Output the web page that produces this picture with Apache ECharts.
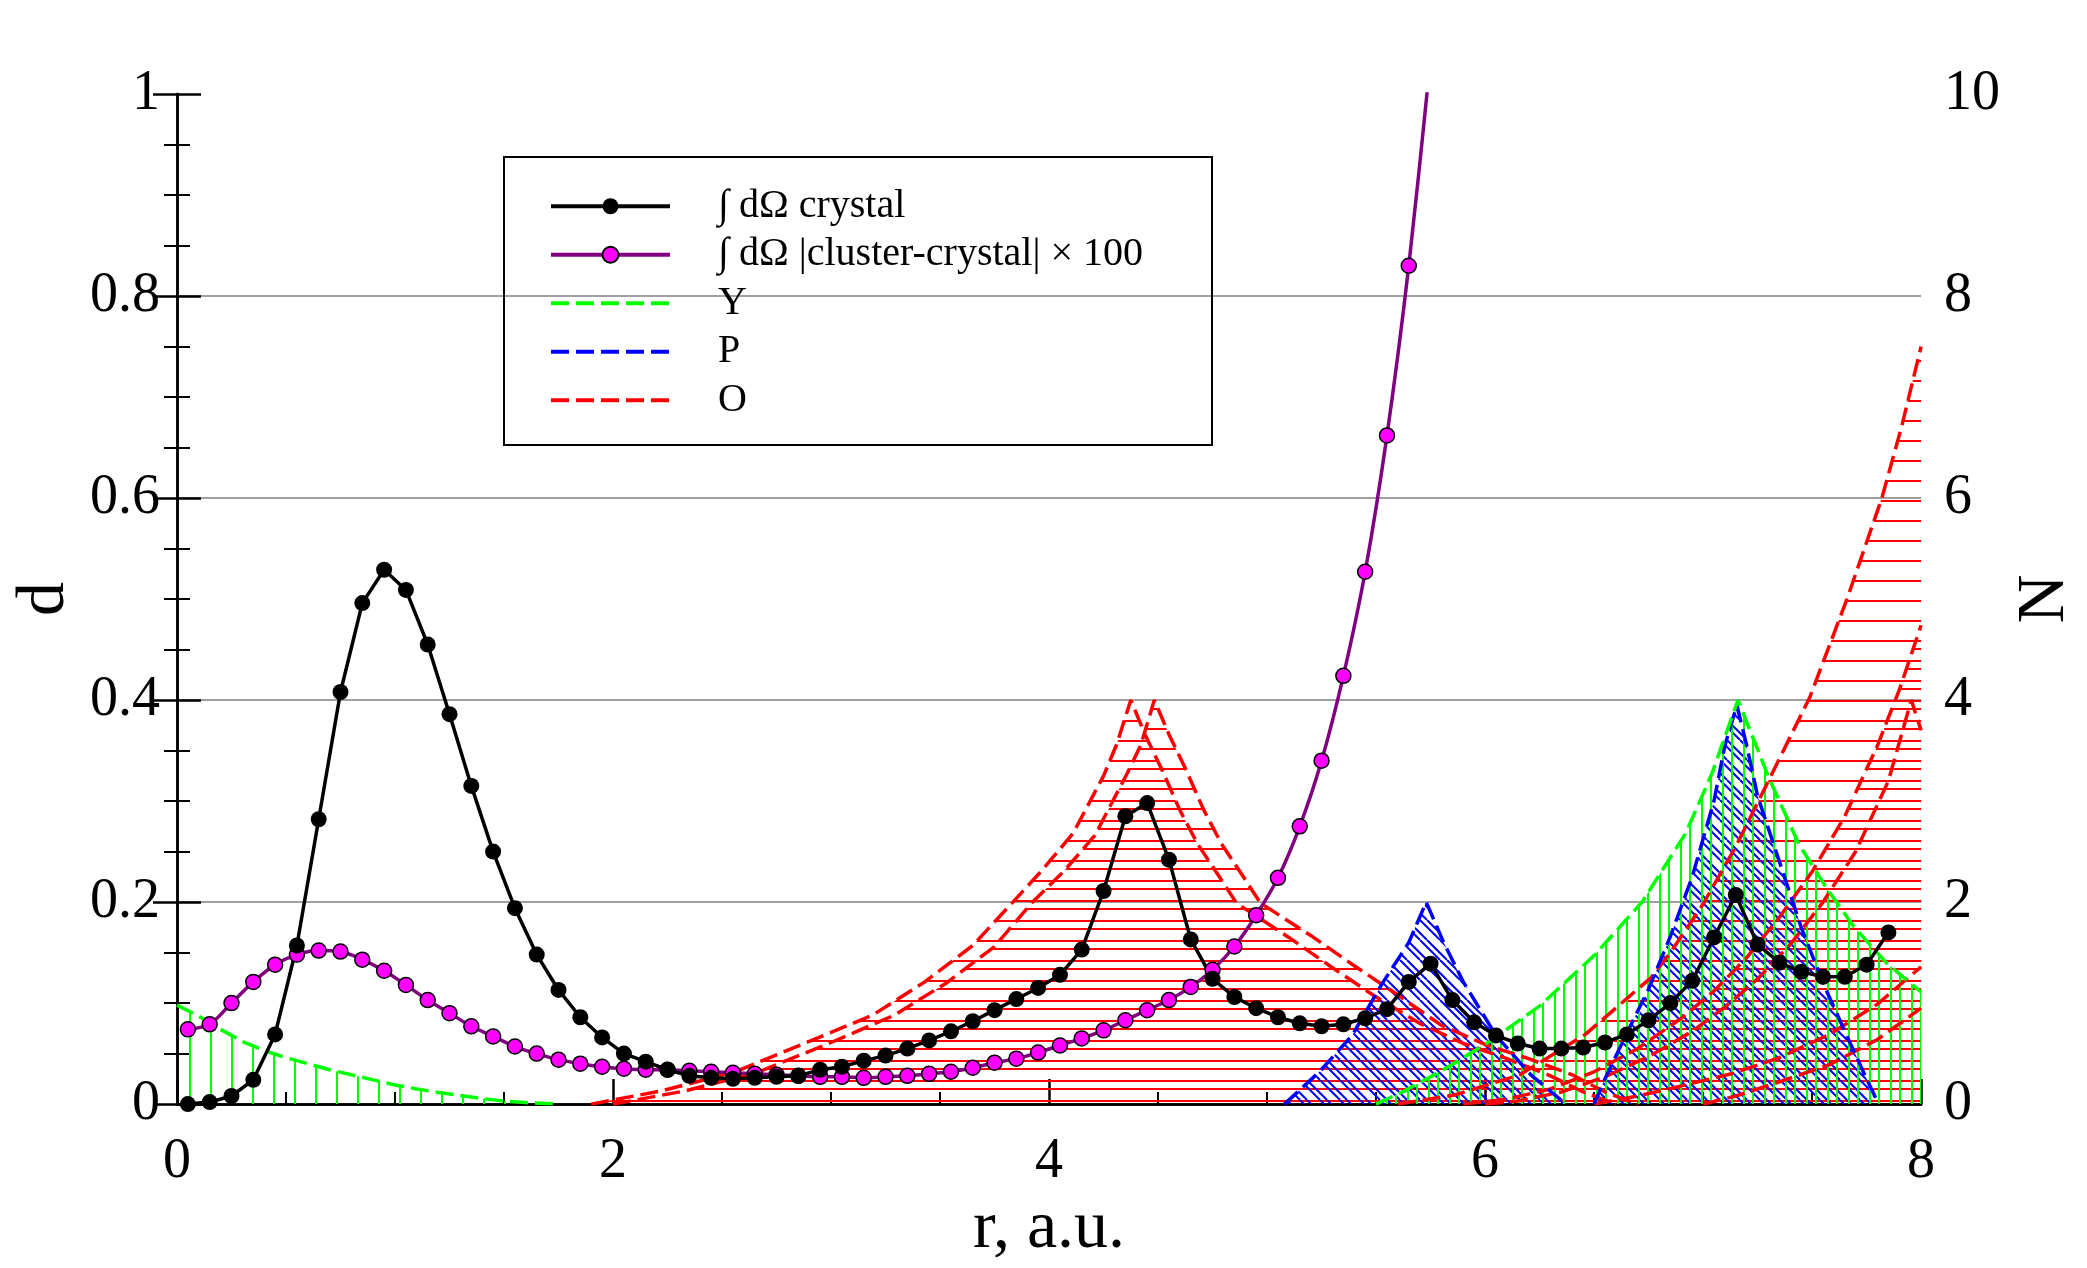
<!DOCTYPE html>
<html>
<head>
<meta charset="utf-8">
<title>d(r) and N(r)</title>
<script src="https://cdn.jsdelivr.net/npm/echarts@6/dist/echarts.min.js"></script>
<style>
html, body { margin: 0; padding: 0; background: #fff; }
#chart { width: 2087px; height: 1268px; }
</style>
</head>
<body>
<div id="chart"></div>
<script>
// r grid of the two integrated curves
const gridR = [0.05, 0.15, 0.25, 0.35, 0.45, 0.55, 0.65, 0.75, 0.85, 0.95,
  1.05, 1.15, 1.25, 1.35, 1.45, 1.55, 1.65, 1.75, 1.85, 1.95,
  2.05, 2.15, 2.25, 2.35, 2.45, 2.55, 2.65, 2.75, 2.85, 2.95,
  3.05, 3.15, 3.25, 3.35, 3.45, 3.55, 3.65, 3.75, 3.85, 3.95,
  4.05, 4.15, 4.25, 4.35, 4.45, 4.55, 4.65, 4.75, 4.85, 4.95,
  5.05, 5.15, 5.25, 5.35, 5.45, 5.55, 5.65, 5.75, 5.85, 5.95,
  6.05, 6.15, 6.25, 6.35, 6.45, 6.55, 6.65, 6.75, 6.85, 6.95,
  7.05, 7.15, 7.25, 7.35, 7.45, 7.55, 7.65, 7.75, 7.85];

// ∫ dΩ crystal  (left axis)
const crystalD = [0.000, 0.002, 0.008, 0.024, 0.069, 0.157, 0.282, 0.408, 0.496, 0.529,
  0.509, 0.455, 0.386, 0.315, 0.250, 0.194, 0.148, 0.113, 0.086, 0.066,
  0.050, 0.042, 0.034, 0.028, 0.026, 0.025, 0.026, 0.027, 0.028, 0.034,
  0.037, 0.043, 0.048, 0.055, 0.063, 0.072, 0.082, 0.093, 0.104, 0.115,
  0.128, 0.153, 0.211, 0.285, 0.298, 0.242, 0.163, 0.124, 0.106, 0.095,
  0.086, 0.080, 0.077, 0.079, 0.085, 0.094, 0.121, 0.139, 0.103, 0.081,
  0.068, 0.060, 0.055, 0.055, 0.056, 0.061, 0.069, 0.083, 0.100, 0.122,
  0.165, 0.207, 0.158, 0.140, 0.131, 0.126, 0.126, 0.138, 0.170];

// ∫ dΩ |cluster-crystal| x 100  (left axis, runs off the top after r = 5.7)
const diffD = [0.074, 0.079, 0.100, 0.121, 0.138, 0.148, 0.152, 0.151, 0.143, 0.132,
  0.118, 0.103, 0.090, 0.077, 0.067, 0.057, 0.050, 0.044, 0.040, 0.037,
  0.035, 0.034, 0.034, 0.033, 0.032, 0.031, 0.030, 0.029, 0.028, 0.027,
  0.027, 0.026, 0.027, 0.028, 0.030, 0.032, 0.036, 0.041, 0.045, 0.051,
  0.058, 0.065, 0.073, 0.083, 0.093, 0.103, 0.116, 0.133, 0.156, 0.187,
  0.224, 0.275, 0.340, 0.424, 0.527, 0.662, 0.830, 1.035];

// Y shells (right axis, N)
const yCoreR = [0, 0.1, 0.2, 0.3, 0.4, 0.5, 0.6, 0.7, 0.8, 0.9, 1.0, 1.1, 1.2, 1.3, 1.4, 1.5, 1.6, 1.75];
const yCoreN = [0.98, 0.87, 0.74, 0.62, 0.53, 0.46, 0.40, 0.34, 0.29, 0.24, 0.19, 0.15, 0.115, 0.085, 0.055, 0.03, 0.015, 0];
const yShellR = [5.5, 5.63, 5.8, 6.0, 6.25, 6.5, 6.72, 6.92, 7.04, 7.16, 7.3, 7.44, 7.56, 7.69, 7.84, 8.0];
const yShellN = [0, 0.13, 0.33, 0.59, 0.97, 1.47, 2.0, 2.68, 3.27, 4.0, 3.24, 2.57, 2.16, 1.76, 1.40, 1.11];

// P shells
const pShellAR = [5.08, 5.24, 5.39, 5.53, 5.65, 5.73, 5.81, 5.9, 6.05, 6.21, 6.37];
const pShellAN = [0, 0.32, 0.68, 1.2, 1.6, 2.0, 1.6, 1.21, 0.68, 0.29, 0];
const pShellBR = [6.5, 6.55, 6.65, 6.75, 6.85, 6.95, 7.05, 7.1, 7.155, 7.2, 7.25, 7.35, 7.45, 7.55, 7.65, 7.75, 7.805];
const pShellBN = [0, 0.25, 0.7, 1.14, 1.66, 2.25, 3.0, 3.55, 3.95, 3.55, 3.05, 2.4, 1.75, 1.2, 0.72, 0.25, 0];

// O shells
const oShellAR = [1.9, 2.22, 2.56, 2.9, 3.19, 3.43, 3.65, 3.83, 3.97, 4.11, 4.25, 4.31, 4.375,
  4.44, 4.52, 4.6, 4.68, 4.76, 4.86, 5.1, 5.3, 5.5, 5.7, 5.9, 6.1, 6.3, 6.45, 6.6];
const oShellAN = [0, 0.13, 0.32, 0.62, 0.88, 1.21, 1.57, 1.99, 2.32, 2.68, 3.25, 3.56, 4.0,
  3.66, 3.3, 2.91, 2.58, 2.32, 1.99, 1.65, 1.35, 1.06, 0.8, 0.6, 0.45, 0.28, 0.12, 0];
const oShellBR = [2.0, 2.33, 2.67, 3.0, 3.29, 3.53, 3.75, 3.92, 4.07, 4.21, 4.36, 4.42, 4.483,
  4.55, 4.63, 4.71, 4.79, 4.87, 4.97, 5.2, 5.4, 5.6, 5.8, 6.0, 6.2, 6.4, 6.55, 6.7];
const oShellBN = [0, 0.13, 0.32, 0.61, 0.88, 1.2, 1.56, 1.99, 2.31, 2.66, 3.28, 3.55, 4.0,
  3.66, 3.3, 2.91, 2.58, 2.32, 1.99, 1.67, 1.37, 1.08, 0.78, 0.59, 0.45, 0.29, 0.12, 0];
const oEdgeAR = [5.6, 5.86, 6.16, 6.46, 6.76, 6.85, 7.0, 7.15, 7.3, 7.49, 7.66, 7.82, 7.91, 8.0];
const oEdgeAN = [0, 0.09, 0.29, 0.69, 1.25, 1.5, 1.98, 2.55, 3.2, 4.03, 5.0, 6.0, 6.7, 7.5];
const oEdgeBR = [5.9, 6.1, 6.3, 6.5, 6.7, 6.9, 7.05, 7.2, 7.35, 7.5, 7.65, 7.8, 7.9, 8.0];
const oEdgeBN = [0, 0.05, 0.15, 0.32, 0.55, 0.85, 1.12, 1.45, 1.85, 2.3, 2.85, 3.55, 4.1, 4.74];
const oEdgeCR = [6.0, 6.15, 6.35, 6.55, 6.75, 6.95, 7.1, 7.25, 7.4, 7.55, 7.7, 7.85, 7.955, 8.0];
const oEdgeCN = [0, 0.03, 0.12, 0.27, 0.47, 0.72, 0.96, 1.24, 1.58, 2.0, 2.5, 3.2, 4.0, 3.7];
const oEdgeDR = [6.5, 6.7, 6.9, 7.13, 7.35, 7.58, 7.8, 8.0];
const oEdgeDN = [0, 0.08, 0.18, 0.3, 0.46, 0.69, 0.99, 1.36];
const oEdgeER = [7.0, 7.15, 7.35, 7.58, 7.8, 8.0];
const oEdgeEN = [0, 0.08, 0.22, 0.39, 0.64, 0.95];

const FONT = 'Liberation Serif';
const NAME_CRYSTAL = '\u222B d\u03A9 crystal';
const NAME_DIFF = '\u222B d\u03A9 |cluster-crystal| \u00D7 100';

function pairs(xs, ys) {
    return xs.map(function (x, i) { return [x, ys[i]]; });
}

// hatch fills: h = horizontal, v = vertical, d = diagonal "\"
function hatch(dir, color, step, offsets) {
    let c = document.createElement('canvas');
    c.width = step;
    c.height = step;
    let ctx = c.getContext('2d');
    ctx.strokeStyle = color;
    ctx.lineWidth = 2;
    offsets.forEach(function (o) {
        ctx.beginPath();
        if (dir === 'h') {
            ctx.moveTo(0, o + 1); ctx.lineTo(step, o + 1);
        } else if (dir === 'v') {
            ctx.moveTo(o + 1, 0); ctx.lineTo(o + 1, step);
        } else {
            for (let k = -1; k <= 1; k++) {
                ctx.moveTo(o + k * step, 0);
                ctx.lineTo(o + k * step + step, step);
            }
        }
        ctx.stroke();
    });
    return { image: c, repeat: 'repeat' };
}

const GREEN = '#00ff00', BLUE = '#0000ff', RED = '#ff0000';
const redFillA = hatch('h', RED, 20, [0]);
const redFillB = hatch('h', RED, 20, [8]);
const greenFillA = hatch('v', GREEN, 21, [0]);
const greenFillB = hatch('v', GREEN, 21, [0, 9]);
const blueFill = hatch('d', BLUE, 20, [0, 7]);

function shell(name, color, xs, ys, fill) {
    return {
        name: name,
        type: 'line',
        yAxisIndex: 1,
        data: pairs(xs, ys),
        symbol: 'none',
        silent: true,
        lineStyle: { color: color, width: 3.5, type: [18, 7] },
        itemStyle: { color: color },
        areaStyle: { color: fill, opacity: 1 }
    };
}

let chart = echarts.init(document.getElementById('chart'));

let tickFont = { fontFamily: FONT, fontSize: 56, color: '#000' };
let nameFont = { fontFamily: FONT, fontSize: 68, color: '#000' };
let noSymbol = { opacity: 0 };

let option = {
    animation: false,
    backgroundColor: '#fff',
    grid: { left: 177, top: 94, right: 130, bottom: 155 },
    legend: {
        data: [
            NAME_CRYSTAL,
            NAME_DIFF,
            { name: 'Y', itemStyle: noSymbol },
            { name: 'P', itemStyle: noSymbol },
            { name: 'O', itemStyle: noSymbol }
        ],
        orient: 'vertical',
        left: 549,
        top: 182,
        padding: 0,
        itemGap: 0,
        itemWidth: 119,
        itemHeight: 20,
        selectedMode: false,
        lineStyle: { width: 4 },
        textStyle: { fontFamily: FONT, fontSize: 40, lineHeight: 48.5, color: '#000', padding: [0, 0, 0, 43] }
    },
    graphic: [{
        type: 'rect',
        shape: { x: 504, y: 157, width: 708, height: 288 },
        style: { fill: 'none', stroke: '#000', lineWidth: 2 },
        z: 90
    }],
    xAxis: [{
        type: 'value',
        min: 0,
        max: 8,
        interval: 2,
        name: 'r, a.u.',
        nameLocation: 'middle',
        nameGap: 86,
        nameTextStyle: nameFont,
        axisLine: { lineStyle: { color: '#000', width: 2.5 } },
        axisTick: { inside: true, length: 25, lineStyle: { color: '#000', width: 2.5 } },
        minorTick: { show: true, splitNumber: 4, length: 12, lineStyle: { color: '#000', width: 2 } },
        axisLabel: Object.assign({ margin: 30 }, tickFont),
        splitLine: { show: false }
    }, {
        type: 'value',
        position: 'top',
        min: 0,
        max: 8,
        interval: 2,
        axisLine: { show: true, lineStyle: { color: '#000', width: 2.5 } },
        axisTick: { show: false },
        axisLabel: { show: false },
        splitLine: { show: false }
    }],
    yAxis: [{
        type: 'value',
        min: 0,
        max: 1,
        interval: 0.2,
        name: 'd',
        nameLocation: 'middle',
        nameGap: 95,
        nameRotate: 90,
        nameTextStyle: nameFont,
        axisLine: { show: true, lineStyle: { color: '#000', width: 2.5 } },
        axisTick: { inside: true, length: 24, lineStyle: { color: '#000', width: 2.5 } },
        minorTick: { show: true, splitNumber: 4, length: 13, lineStyle: { color: '#000', width: 2 } },
        axisLabel: Object.assign({ margin: 17 }, tickFont),
        splitLine: { show: true, showMinLine: false, showMaxLine: false, lineStyle: { color: '#a0a0a0', width: 2 } }
    }, {
        type: 'value',
        position: 'right',
        min: 0,
        max: 10,
        interval: 2,
        name: 'N',
        nameLocation: 'middle',
        nameGap: 67,
        nameRotate: 90,
        nameTextStyle: nameFont,
        axisLine: { show: true, lineStyle: { color: '#000', width: 2.5 } },
        axisTick: { inside: true, length: 24, lineStyle: { color: '#000', width: 2.5 } },
        minorTick: { show: true, splitNumber: 4, length: 13, lineStyle: { color: '#000', width: 2 } },
        axisLabel: Object.assign({ margin: 23 }, tickFont),
        splitLine: { show: false }
    }],
    series: [
        shell('O', RED, oShellAR, oShellAN, redFillA),
        shell('O', RED, oShellBR, oShellBN, redFillB),
        shell('O', RED, oEdgeAR, oEdgeAN, redFillA),
        shell('O', RED, oEdgeBR, oEdgeBN, redFillB),
        shell('O', RED, oEdgeCR, oEdgeCN, redFillA),
        shell('O', RED, oEdgeDR, oEdgeDN, redFillB),
        shell('O', RED, oEdgeER, oEdgeEN, redFillA),
        shell('P', BLUE, pShellAR, pShellAN, blueFill),
        shell('P', BLUE, pShellBR, pShellBN, blueFill),
        shell('Y', GREEN, yCoreR, yCoreN, greenFillA),
        shell('Y', GREEN, yShellR, yShellN, greenFillB),
        {
            name: NAME_DIFF,
            type: 'line',
            data: pairs(gridR.slice(0, diffD.length), diffD),
            symbol: 'circle',
            symbolSize: 15,
            smooth: 0.3,
            lineStyle: { color: '#800080', width: 3.5 },
            itemStyle: { color: '#ff00ff', borderColor: '#000', borderWidth: 1.5 }
        },
        {
            name: NAME_CRYSTAL,
            type: 'line',
            data: pairs(gridR, crystalD),
            symbol: 'circle',
            symbolSize: 16,
            lineStyle: { color: '#000', width: 3.5 },
            itemStyle: { color: '#000' }
        }
    ]
};

chart.setOption(option);
</script>
</body>
</html>
